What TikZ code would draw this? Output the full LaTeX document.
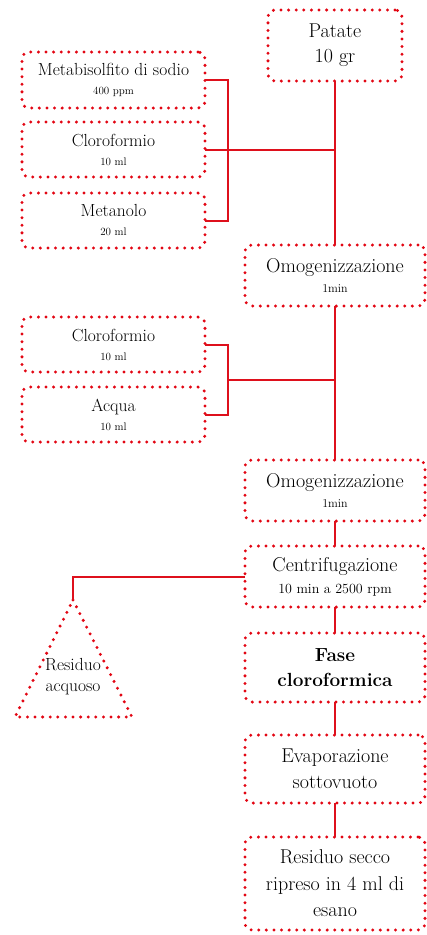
\documentclass[tikz,border=0pt]{standalone}
\usetikzlibrary{positioning,calc}
\definecolor{dotred}{RGB}{226,6,19}
\definecolor{linkred}{RGB}{222,16,28}
\newcommand{\tinytxt}{\fontsize{11}{13}\selectfont}
\newcommand{\mintxt}{\fontsize{12}{14}\selectfont}
\newcommand{\rpmtxt}{\fontsize{14}{16}\selectfont}
\tikzset{
  dotline/.style={
    draw=dotred,
    line width=3.3pt,
    dash pattern=on 0pt off 7.6pt,
    line cap=round
  },
  stepbox/.style={
    dotline,
    rounded corners=7pt,
    align=center,
    inner sep=0pt,
    outer sep=0pt
  },
  reagent/.style={
    stepbox,
    minimum width=183pt,
    minimum height=55pt,
    font=\fontsize{17.5}{21}\selectfont
  },
  stage/.style={
    stepbox,
    minimum width=180pt,
    minimum height=61pt,
    font=\fontsize{20}{26.5}\selectfont
  },
  link/.style={draw=linkred, line width=2pt}
}

\begin{document}
\begin{tikzpicture}[x=1pt, y=-1pt]
  \useasboundingbox (0,0) rectangle (426,935);

  \node[stage, minimum width=134pt, minimum height=71pt, font=\fontsize{20}{25}\selectfont] (patate) at (335,45.5) {Patate\\10 gr};

  \node[reagent, minimum height=56pt] (metab) at (113.5,80) {Metabisolfito di sodio\\[-2pt]{\tinytxt 400 ppm}};
  \node[reagent, below=14pt of metab] (cloro1) {Cloroformio\\[-2pt]{\tinytxt 10 ml}};
  \node[reagent, below=16pt of cloro1] (metan) {Metanolo\\[-2pt]{\tinytxt 20 ml}};

  \node[stage, below=164pt of patate] (omog1) {Omogenizzazione\\[-6.5pt]{\mintxt 1min}};

  \node[reagent] (cloro2) at (113.5,344.5) {Cloroformio\\[-2pt]{\tinytxt 10 ml}};
  \node[reagent, below=15pt of cloro2] (acqua) {Acqua\\[-2pt]{\tinytxt 10 ml}};

  \node[stage, below=154pt of omog1] (omog2) {Omogenizzazione\\[-6.5pt]{\mintxt 1min}};
  \node[stage, below=25pt of omog2] (centr) {Centrifugazione\\[-4.5pt]{\rpmtxt 10 min a 2500 rpm}};
  \node[stage, below=26pt of centr, minimum height=69pt, font=\fontsize{19}{25}\selectfont\bfseries] (fase) {Fase\\cloroformica};
  \node[stage, below=33pt of fase, minimum height=68pt] (evap) {Evaporazione\\sottovuoto};
  \node[stage, below=34pt of evap, minimum height=93pt] (secco) {Residuo secco\\ripreso in 4 ml di\\esano};

  % triangle for the water phase
  \coordinate (tip) at (73,600);
  \draw[dotline] (tip) -- (132,717) -- (15,717) -- cycle;
  \node[align=center, inner sep=0pt, font=\fontsize{17.5}{21}\selectfont] (acquoso) at (73,677) {Residuo\\acquoso};

  \draw[link] (patate) -- (omog1);
  \draw[link] (metab.east) -- ++(23,0) |- (metan.east);
  \draw[link] (cloro1.east) -- (cloro1.east -| patate.south);
  \draw[link] (cloro2.east) -- ++(23,0) |- (acqua.east);
  \coordinate (join2) at ($(cloro2.east)!.5!(acqua.east)+(23,0)$);
  \draw[link] (join2) -- (join2 -| omog1.south);
  \draw[link] (omog1) -- (omog2);
  \draw[link] (omog2) -- (centr);
  \draw[link] (centr.west) -| (tip);
  \draw[link] (centr) -- (fase);
  \draw[link] (fase) -- (evap);
  \draw[link] (evap) -- (secco);
\end{tikzpicture}
\end{document}
